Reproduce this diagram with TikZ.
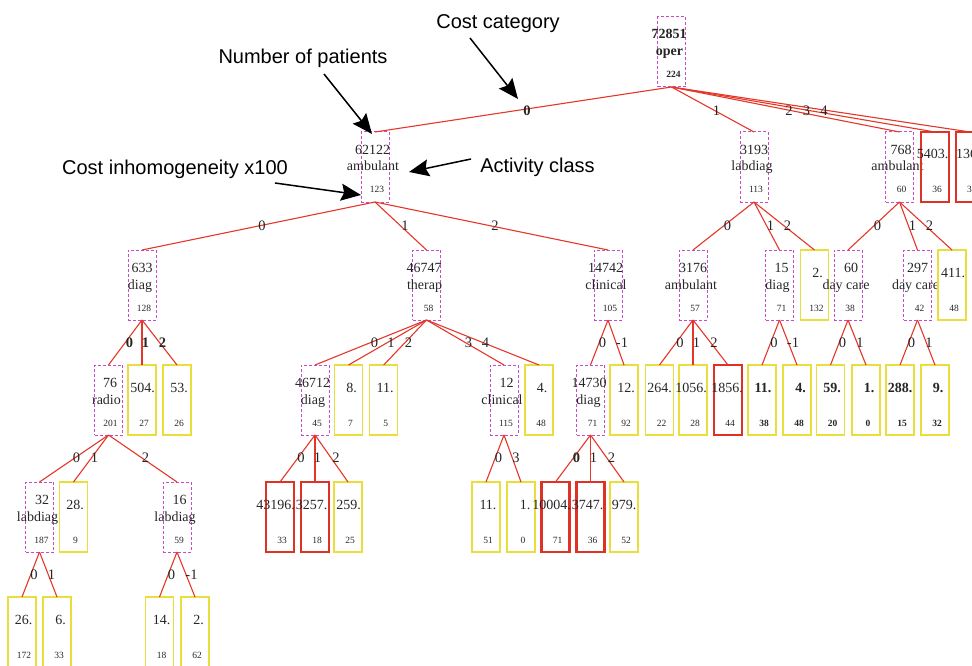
\documentclass[tikz,border=0pt]{standalone}
\usepackage{fontspec}
\setmainfont{Liberation Serif}
\newfontfamily\annfont{Liberation Sans}
\usetikzlibrary{arrows.meta}
\definecolor{magbox}{RGB}{200,75,200}
\definecolor{yelbox}{RGB}{234,222,60}
\definecolor{redbox}{RGB}{222,50,38}
\definecolor{edgered}{RGB}{228,55,40}
\tikzset{
  boxbase/.style={rectangle, minimum width=28pt, minimum height=70pt, inner sep=0pt, outer sep=0pt},
  ibox/.style={boxbase, draw=magbox, line width=1pt, dash pattern=on 3pt off 2pt},
  ybox/.style={boxbase, draw=yelbox, line width=1.5pt},
  rbox/.style={boxbase, draw=redbox, line width=2.6pt},
  bigtxt/.style={anchor=base, inner sep=0pt, text=black!85, font=\fontsize{14}{14}\selectfont},
  smalltxt/.style={anchor=base, inner sep=0pt, text=black!85, font=\fontsize{9.5}{9.5}\selectfont},
  elab/.style={inner sep=0pt, text=black!85, font=\fontsize{14.5}{14.5}\selectfont},
  treeedge/.style={draw=edgered, line width=1.1pt},
  annot/.style={anchor=base, inner sep=0pt, font=\annfont\fontsize{20}{20}\selectfont},
  annarrow/.style={draw=black, line width=1.5pt, -{Stealth[length=20pt,width=17pt,inset=3pt]}},
}
% #1 bold, #2 name, #3 x, #4 ytop, #5 num, #6 class, #7 small, #8 dx
\newcommand{\InNode}[8][]{%
  \node[ibox] (#2) at ({#3},{#4+35}) {};
  \node[bigtxt] (#2-a) at ({#3+(#8)},{#4+22}) {#1#5};
  \node[bigtxt] (#2-b) at ({#3-2},{#4+39}) {#1#6};
  \node[smalltxt] (#2-c) at ({#3+2},{#4+61}) {#1#7};
}
% #1 bold, #2 name, #3 style, #4 x, #5 ytop, #6 num, #7 small, #8 dx
\newcommand{\LeafNode}[8][]{%
  \node[#3] (#2) at ({#4},{#5+35}) {};
  \node[bigtxt] (#2-a) at ({#4+(#8)},{#5+27}) {#1#6};
  \node[smalltxt] (#2-c) at ({#4+2},{#5+61}) {#1#7};
}
\begin{document}
\begin{tikzpicture}[x=1pt,y=-1pt]
\useasboundingbox (0,0) rectangle (972,666);
\clip (0,0) rectangle (972,666);

% ---- level 0
\InNode[\bfseries]{root}{671.5}{17}{72851}{oper}{224}{-2.5}
% ---- level 1
\InNode{n62122}{375}{132}{62122}{ambulant}{123}{-2.5}
\InNode{n3193}{754}{132}{3193}{labdiag}{113}{0}
\InNode{n768}{899.5}{132}{768}{ambulant}{60}{1.5}
\LeafNode{l5403}{rbox}{935}{132}{5403.}{36}{-2.5}
\node[rbox] (l136) at (970,167) {};
\node[bigtxt, anchor=base west] (l136-a) at (956,159) {136};
\node[smalltxt, anchor=base west] (l136-c) at (967,193) {3};
% ---- level 2
\InNode{n633}{142}{250}{633}{diag}{128}{0}
\InNode{n46747}{426.5}{250}{46747}{therap}{58}{-2.5}
\InNode{n14742}{608}{250}{14742}{clinical}{105}{-2.5}
\InNode{n3176}{693}{250}{3176}{ambulant}{57}{0}
\InNode{n15}{779.5}{250}{15}{diag}{71}{2}
\LeafNode{l2a}{ybox}{814.5}{250}{2.}{132}{3}
\InNode{n60}{848}{250}{60}{day care}{38}{3}
\InNode{n297}{917.5}{250}{297}{day care}{42}{0}
\LeafNode{l411}{ybox}{952}{250}{411.}{48}{1}
% ---- level 3
\InNode{n76}{108.5}{365}{76}{radio}{201}{1.5}
\LeafNode{l504}{ybox}{142}{365}{504.}{27}{0.7}
\LeafNode{l53}{ybox}{177}{365}{53.}{26}{2}
\InNode{n46712}{315}{365}{46712}{diag}{45}{-2.5}
\LeafNode{l8}{ybox}{348.5}{365}{8.}{7}{3}
\LeafNode{l11a}{ybox}{383.7}{365}{11.}{5}{1.5}
\InNode{n12}{504}{365}{12}{clinical}{115}{2.5}
\LeafNode{l4a}{ybox}{539}{365}{4.}{48}{3}
\InNode{n14730}{590.5}{365}{14730}{diag}{71}{-1.5}
\LeafNode{l12}{ybox}{624}{365}{12.}{92}{2}
\LeafNode{l264}{ybox}{659.5}{365}{264.}{22}{0}
\LeafNode{l1056}{ybox}{693}{365}{1056.}{28}{-2}
\LeafNode{l1856}{rbox}{728}{365}{1856.}{44}{-1}
\LeafNode[\bfseries]{l11b}{ybox}{762}{365}{11.}{38}{1}
\LeafNode[\bfseries]{l4b}{ybox}{797}{365}{4.}{48}{3.5}
\LeafNode[\bfseries]{l59}{ybox}{830.5}{365}{59.}{20}{1.5}
\LeafNode[\bfseries]{l1b}{ybox}{866}{365}{1.}{0}{3}
\LeafNode[\bfseries]{l288}{ybox}{900}{365}{288.}{15}{0}
\LeafNode[\bfseries]{l9}{ybox}{935}{365}{9.}{32}{3}
% ---- level 4
\InNode{n32}{39.5}{482}{32}{labdiag}{187}{2.5}
\LeafNode{l28}{ybox}{73.5}{482}{28.}{9}{1.5}
\InNode{n16}{177}{482}{16}{labdiag}{59}{2.5}
\LeafNode{l43196}{rbox}{280}{482}{43196.}{33}{-4.5}
\LeafNode{l3257}{rbox}{315}{482}{3257.}{18}{-3.5}
\LeafNode{l259}{ybox}{348}{482}{259.}{25}{0.5}
\LeafNode{l11c}{ybox}{486}{482}{11.}{51}{2}
\LeafNode{l1c}{ybox}{521}{482}{1.}{0}{4}
\LeafNode{l10004}{rbox}{555.5}{482}{10004.}{71}{-4}
\LeafNode{l3747}{rbox}{590.5}{482}{3747.}{36}{-3}
\LeafNode{l979}{ybox}{624}{482}{979.}{52}{0}
% ---- level 5
\LeafNode{l26}{ybox}{22}{597}{26.}{172}{1.5}
\LeafNode{l6}{ybox}{57}{597}{6.}{33}{3.5}
\LeafNode{l14}{ybox}{159.5}{597}{14.}{18}{2}
\LeafNode{l2b}{ybox}{195}{597}{2.}{62}{3.5}

% ---- edges
\foreach \c in {n62122,n3193,n768,l5403,l136} \draw[treeedge] (root.south) -- (\c.north);
\foreach \c in {n633,n46747,n14742} \draw[treeedge] (n62122.south) -- (\c.north);
\foreach \c in {n3176,n15,l2a} \draw[treeedge] (n3193.south) -- (\c.north);
\foreach \c in {n60,n297,l411} \draw[treeedge] (n768.south) -- (\c.north);
\foreach \c in {n76,l504,l53} \draw[treeedge] (n633.south) -- (\c.north);
\foreach \c in {n46712,l8,l11a,n12,l4a} \draw[treeedge] (n46747.south) -- (\c.north);
\foreach \c in {n14730,l12} \draw[treeedge] (n14742.south) -- (\c.north);
\foreach \c in {l264,l1056,l1856} \draw[treeedge] (n3176.south) -- (\c.north);
\foreach \c in {l11b,l4b} \draw[treeedge] (n15.south) -- (\c.north);
\foreach \c in {l59,l1b} \draw[treeedge] (n60.south) -- (\c.north);
\foreach \c in {l288,l9} \draw[treeedge] (n297.south) -- (\c.north);
\foreach \c in {n32,l28,n16} \draw[treeedge] (n76.south) -- (\c.north);
\foreach \c in {l43196,l3257,l259} \draw[treeedge] (n46712.south) -- (\c.north);
\foreach \c in {l11c,l1c} \draw[treeedge] (n12.south) -- (\c.north);
\foreach \c in {l10004,l3747,l979} \draw[treeedge] (n14730.south) -- (\c.north);
\foreach \c in {l26,l6} \draw[treeedge] (n32.south) -- (\c.north);
\foreach \c in {l14,l2b} \draw[treeedge] (n16.south) -- (\c.north);

% ---- edge labels
\node[elab] (e-r0) at (527,111) {\bfseries 0};
\node[elab] (e-r1) at (716.5,111) {1};
\node[elab] (e-r2) at (789,111) {2};
\node[elab] (e-r3) at (806.5,111) {3};
\node[elab] (e-r4) at (824,111) {4};
\node[elab] (e-a0) at (262,226) {0};
\node[elab] (e-a1) at (405,226) {1};
\node[elab] (e-a2) at (495,226) {2};
\node[elab] (e-b0) at (727.5,226) {0};
\node[elab] (e-b1) at (770.5,226) {1};
\node[elab] (e-b2) at (787.5,226) {2};
\node[elab] (e-c0) at (877.5,226) {0};
\node[elab] (e-c1) at (912.5,226) {1};
\node[elab] (e-c2) at (929.5,226) {2};
\node[elab] (e-d0) at (129.5,343) {\bfseries 0};
\node[elab] (e-d1) at (145.5,343) {\bfseries 1};
\node[elab] (e-d2) at (162.5,343) {\bfseries 2};
\node[elab] (e-f0) at (374.5,343) {0};
\node[elab] (e-f1) at (391,343) {1};
\node[elab] (e-f2) at (408.5,343) {2};
\node[elab] (e-f3) at (468.5,343) {3};
\node[elab] (e-f4) at (485.5,343) {4};
\node[elab] (e-g0) at (602.5,343) {0};
\node[elab] (e-g1) at (622,343) {-1};
\node[elab] (e-h0) at (680,343) {0};
\node[elab] (e-h1) at (696.5,343) {1};
\node[elab] (e-h2) at (714,343) {2};
\node[elab] (e-i0) at (774,343) {0};
\node[elab] (e-i1) at (793,343) {-1};
\node[elab] (e-j0) at (842.5,343) {0};
\node[elab] (e-j1) at (860,343) {1};
\node[elab] (e-k0) at (911.5,343) {0};
\node[elab] (e-k1) at (929,343) {1};
\node[elab] (e-m0) at (76.5,457.5) {0};
\node[elab] (e-m1) at (94.5,457.5) {1};
\node[elab] (e-m2) at (145.5,457.5) {2};
\node[elab] (e-p0) at (301,457.5) {0};
\node[elab] (e-p1) at (317.5,457.5) {1};
\node[elab] (e-p2) at (336,457.5) {2};
\node[elab] (e-q0) at (498.5,457.5) {0};
\node[elab] (e-q1) at (516,457.5) {3};
\node[elab] (e-s0) at (576.5,457.5) {\bfseries 0};
\node[elab] (e-s1) at (593.5,457.5) {1};
\node[elab] (e-s2) at (611.5,457.5) {2};
\node[elab] (e-t0) at (34,575) {0};
\node[elab] (e-t1) at (51.5,575) {1};
\node[elab] (e-u0) at (171.5,575) {0};
\node[elab] (e-u1) at (191.5,575) {-1};

% ---- annotations
\node[annot] (t-cat) at (498,29) {Cost category};
\node[annot] (t-pat) at (303,64) {Number of patients};
\node[annot] (t-act) at (537.5,172) {Activity class};
\node[annot] (t-inh) at (175,175) {Cost inhomogeneity x100};
\coordinate (a-cat-s) at (470,38);
\coordinate (a-cat-t) at (518,99);
\coordinate (a-pat-s) at (324,74);
\coordinate (a-pat-t) at (372,134);
\coordinate (a-act-s) at (471,159);
\coordinate (a-act-t) at (409,172);
\coordinate (a-inh-s) at (275,183);
\coordinate (a-inh-t) at (361,195);
\draw[annarrow] (a-cat-s) -- (a-cat-t);
\draw[annarrow] (a-pat-s) -- (a-pat-t);
\draw[annarrow] (a-act-s) -- (a-act-t);
\draw[annarrow] (a-inh-s) -- (a-inh-t);
\end{tikzpicture}
\end{document}
